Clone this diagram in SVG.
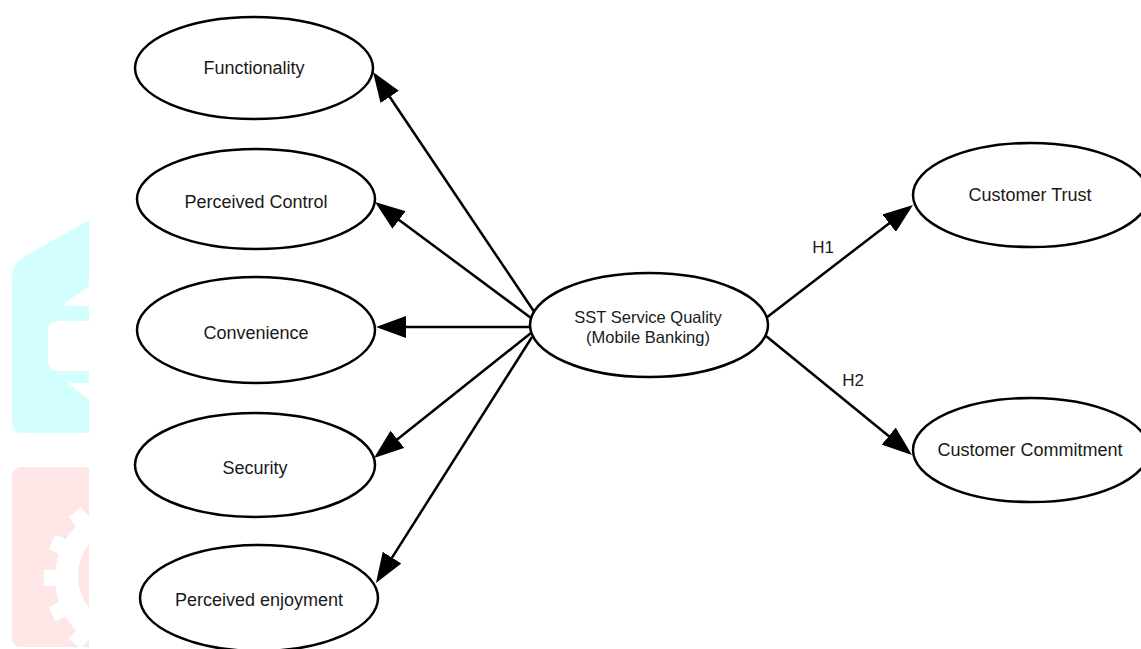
<svg xmlns="http://www.w3.org/2000/svg" width="1141" height="649" viewBox="0 0 1141 649">
<style>
.node ellipse{fill:#ffffff;stroke:#000000;stroke-width:2.5}
.node text{font-family:"Liberation Sans",Arial,sans-serif;font-size:18px;fill:#1a1a1a;text-anchor:middle}
#sst text{font-size:16.5px}
.edge{stroke:#000000;stroke-width:2.5;fill:none;marker-end:url(#arrow)}
.lbl{font-family:"Liberation Sans",Arial,sans-serif;font-size:17px;fill:#1a1a1a;text-anchor:middle}
</style>
<defs>
<marker id="arrow" viewBox="0 0 30 22" refX="26" refY="11" markerWidth="30" markerHeight="22" markerUnits="userSpaceOnUse" orient="auto">
<path d="M0,0 L30,11 L0,22 Z" fill="#000000"/>
</marker>
<clipPath id="pinkClip"><path d="M89,467 L22,467 Q12,467 12,477 L12,637 Q12,647 22,647 L89,647 Z"/></clipPath>
</defs>
<rect width="1141" height="649" fill="#ffffff"/>
<g id="watermark">
<path d="M89,220 L24,257 Q12,264 12,278 L12,423 Q12,433 22,433 L89,433 Z" fill="#d2fefe"/>
<path d="M89,286 L65,303 L65,306 L89,306 Z" fill="#ffffff"/>
<path d="M89,321 L58,321 Q48,321 48,331 L48,361 Q48,371 58,371 L89,371 Z" fill="#ffffff"/>
<path d="M68,383 L89,383 L89,400 Z" fill="#ffffff"/>
<path d="M89,467 L22,467 Q12,467 12,477 L12,637 Q12,647 22,647 L89,647 Z" fill="#fee6e6"/>
<g clip-path="url(#pinkClip)" fill="#ffffff">
<circle cx="130" cy="578" r="75"/>
<g transform="translate(130,578)">
<rect x="-86" y="-8" width="16" height="16" transform="rotate(-50)"/>
<rect x="-86" y="-8" width="16" height="16" transform="rotate(-25)"/>
<rect x="-86" y="-8" width="16" height="16"/>
<rect x="-86" y="-8" width="16" height="16" transform="rotate(25)"/>
<rect x="-86" y="-8" width="16" height="16" transform="rotate(50)"/>
</g>
<circle cx="130" cy="576" r="52" fill="#fee6e6"/>
</g>
</g>
<g id="connectors">
<line class="edge" x1="535" y1="313" x2="375.2" y2="75.3"/>
<line class="edge" x1="531" y1="318" x2="378.2" y2="204.4"/>
<line class="edge" x1="530" y1="327" x2="380" y2="327"/>
<line class="edge" x1="531" y1="333" x2="377.1" y2="455.5"/>
<line class="edge" x1="532" y1="337" x2="378.1" y2="579.6"/>
<line class="edge" x1="766" y1="318" x2="909.8" y2="207.4"/>
<line class="edge" x1="766" y1="336" x2="908.9" y2="452.5"/>
<text class="lbl" x="823" y="253">H1</text>
<text class="lbl" x="853" y="386">H2</text>
</g>
<g id="functionality" class="node"><ellipse cx="254" cy="68" rx="119" ry="51"/><text x="254" y="74">Functionality</text></g>
<g id="perceived-control" class="node"><ellipse cx="256" cy="199" rx="119" ry="50"/><text x="256" y="208">Perceived Control</text></g>
<g id="convenience" class="node"><ellipse cx="256" cy="330" rx="119" ry="53"/><text x="256" y="339">Convenience</text></g>
<g id="security" class="node"><ellipse cx="255" cy="465" rx="120" ry="52"/><text x="255" y="474">Security</text></g>
<g id="perceived-enjoyment" class="node"><ellipse cx="259" cy="598" rx="119" ry="53"/><text x="259" y="606">Perceived enjoyment</text></g>
<g id="sst" class="node"><ellipse cx="649" cy="325" rx="119" ry="52"/><text x="648" y="323">SST Service Quality</text><text x="648" y="343">(Mobile Banking)</text></g>
<g id="customer-trust" class="node"><ellipse cx="1031" cy="195" rx="118" ry="52"/><text x="1030" y="201">Customer Trust</text></g>
<g id="customer-commitment" class="node"><ellipse cx="1031" cy="450" rx="118" ry="52"/><text x="1030" y="456">Customer Commitment</text></g>
</svg>
